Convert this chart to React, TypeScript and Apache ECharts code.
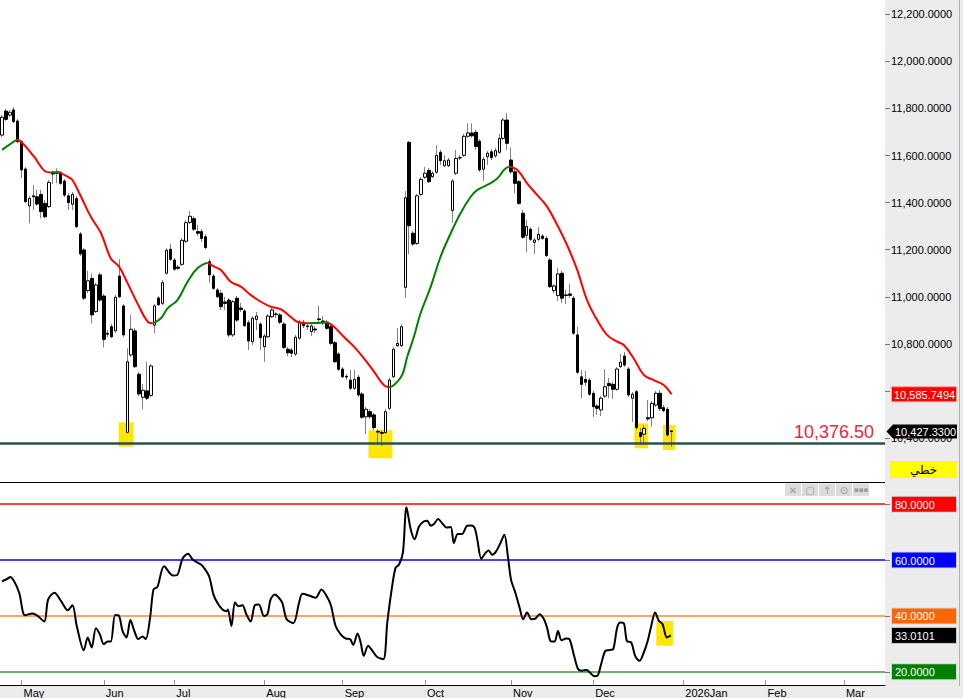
import { useEffect, useRef } from 'react';
import * as echarts from 'echarts';

// ---- candle data (one entry per trading day, slot index = array index) ----
const opens = [
  11687, 11789, 11772, 11794, 11747, 11659, 11543, 11386, 11429, 11425, 11435, 11397, 11383, 11529, 11529, 11527, 11492, 11429, 11393, 11418,
  11267, 11199, 11026, 11078, 10937, 11093, 11003, 10845, 10873, 10855, 11088, 10961, 10424, 10753, 10855, 10671, 10573, 10600, 10581, 10879,
  10995, 10972, 11100, 11202, 11156, 11126, 11138, 11236, 11316, 11332, 11277, 11277, 11255, 11149, 11088, 11029, 11015, 10978, 10986, 10838,
  10994, 10952, 10940, 10890, 10809, 10904, 10884, 10788, 10830, 10915, 10925, 10923, 10884, 10777, 10774, 10757, 10824, 10892, 10876, 10852,
  10863, 10906, 10897, 10892, 10873, 10805, 10757, 10693, 10662, 10646, 10611, 10658, 10587, 10490, 10512, 10498, 10428, 10423, 10423, 10526,
  10660, 10792, 10792, 11040, 11656, 11270, 11227, 11435, 11508, 11537, 11510, 11529, 11614, 11557, 11557, 11367, 11525, 11591, 11601, 11682,
  11696, 11699, 11661, 11542, 11595, 11616, 11599, 11614, 11673, 11751, 11581, 11531, 11489, 11355, 11261, 11287, 11231, 11244, 11258, 11248,
  11156, 11026, 11005, 11100, 11008, 11012, 10994, 10838, 10660, 10649, 10646, 10590, 10536, 10519, 10578, 10632, 10628, 10607, 10703, 10748,
  10693, 10569, 10597, 10423, 10416, 10486, 10486, 10540, 10590, 10529, 10522, 10430,
];
const closes = [
  11763, 11754, 11784, 11744, 11659, 11539, 11404, 11418, 11425, 11394, 11362, 11340, 11486, 11522, 11525, 11482, 11432, 11400, 11435, 11298,
  11182, 10994, 11068, 10923, 11050, 10986, 10819, 10841, 10830, 10998, 11000, 10838, 10724, 10862, 10703, 10587, 10603, 10569, 10706, 10961,
  10966, 11060, 11198, 11159, 11117, 11121, 11240, 11315, 11342, 11287, 11270, 11248, 11209, 11093, 11036, 11000, 10958, 10972, 10838, 10979,
  10901, 10946, 10877, 10812, 10909, 10918, 10826, 10833, 10918, 10944, 10927, 10892, 10784, 10762, 10760, 10828, 10892, 10877, 10873, 10876,
  10859, 10903, 10890, 10866, 10802, 10724, 10692, 10660, 10659, 10611, 10649, 10583, 10488, 10522, 10490, 10444, 10425, 10420, 10512, 10646,
  10777, 10802, 10873, 11421, 11302, 11224, 11429, 11499, 11525, 11489, 11525, 11601, 11578, 11578, 11581, 11492, 11588, 11590, 11682, 11696,
  11684, 11638, 11539, 11584, 11610, 11591, 11621, 11673, 11751, 11652, 11531, 11482, 11397, 11253, 11299, 11244, 11241, 11265, 11248, 11175,
  11043, 11046, 11097, 10994, 11005, 11006, 10845, 10679, 10628, 10637, 10586, 10533, 10526, 10569, 10618, 10622, 10607, 10693, 10722, 10710,
  10583, 10586, 10444, 10406, 10441, 10481, 10547, 10590, 10525, 10516, 10413, 10427.33,
];
const lows = [
  11679, 11747, 11764, 11738, 11653, 11505, 11398, 11312, 11369, 11386, 11333, 11335, 11377, 11479, 11482, 11475, 11424, 11369, 11369, 11292,
  11173, 10986, 11016, 10887, 10931, 10978, 10785, 10829, 10825, 10846, 10995, 10829, 10419, 10744, 10697, 10578, 10522, 10561, 10574, 10845,
  10961, 10965, 11093, 11152, 11110, 11114, 11131, 11228, 11309, 11279, 11258, 11233, 11203, 11060, 11029, 10995, 10944, 10944, 10829, 10829,
  10893, 10935, 10872, 10774, 10795, 10859, 10774, 10723, 10825, 10910, 10910, 10884, 10778, 10748, 10744, 10748, 10816, 10867, 10859, 10833,
  10846, 10893, 10880, 10859, 10795, 10719, 10685, 10655, 10646, 10604, 10604, 10574, 10481, 10417, 10481, 10434, 10370, 10366, 10417, 10519,
  10655, 10787, 10787, 10996, 11180, 11216, 11220, 11428, 11500, 11483, 11505, 11522, 11560, 11551, 11551, 11315, 11517, 11581, 11594, 11675,
  11675, 11624, 11530, 11492, 11560, 11581, 11590, 11607, 11666, 11624, 11522, 11441, 11390, 11246, 11190, 11237, 11182, 11237, 11241, 11169,
  11037, 11016, 10982, 10974, 10969, 10995, 10838, 10672, 10569, 10621, 10578, 10490, 10498, 10493, 10570, 10570, 10566, 10600, 10697, 10702,
  10574, 10468, 10434, 10370, 10370, 10472, 10447, 10532, 10515, 10510, 10404, 10362,
];
const highs = [
  11772, 11798, 11794, 11806, 11755, 11666, 11551, 11428, 11475, 11454, 11454, 11411, 11496, 11534, 11546, 11534, 11500, 11440, 11445, 11428,
  11275, 11207, 11110, 11100, 11059, 11102, 11012, 10859, 10884, 11008, 11159, 10969, 10781, 10923, 10867, 10680, 10629, 10724, 10714, 10969,
  11003, 11071, 11207, 11224, 11165, 11135, 11250, 11326, 11364, 11343, 11305, 11288, 11267, 11161, 11097, 11037, 11029, 10999, 10995, 10986,
  11003, 10974, 10948, 10901, 10918, 10935, 10893, 10842, 10927, 10952, 10935, 10931, 10893, 10787, 10782, 10838, 10901, 10901, 10889, 10884,
  10876, 10962, 10918, 10901, 10884, 10812, 10765, 10702, 10672, 10689, 10689, 10668, 10595, 10532, 10523, 10506, 10438, 10434, 10523, 10655,
  10787, 10867, 10884, 11449, 11662, 11280, 11437, 11509, 11551, 11547, 11534, 11645, 11624, 11602, 11590, 11500, 11624, 11602, 11692, 11737,
  11737, 11709, 11670, 11594, 11619, 11628, 11632, 11692, 11760, 11780, 11635, 11543, 11496, 11369, 11326, 11296, 11250, 11296, 11267, 11258,
  11165, 11054, 11122, 11110, 11029, 11054, 11003, 10872, 10689, 10685, 10655, 10600, 10544, 10578, 10693, 10655, 10638, 10702, 10757, 10765,
  10702, 10595, 10604, 10442, 10455, 10561, 10557, 10600, 10604, 10540, 10532, 10432,
];

// ---- moving average (slot position, value) ----
const maSlots = [
  0, 3.6, 4.9, 8.2, 10.8, 12.5, 14.6, 16.8, 18.0, 20.2, 22.7, 25.3, 27.8, 29.9, 32.1, 34.6, 37.2, 38.5, 40.6, 42.3,
  44.8, 47.4, 49.9, 52.5, 54.2, 55.9, 58.4, 61.0, 63.5, 66.1, 68.6, 71.2, 73.7, 75.4, 78.0, 80.5, 83.1, 84.8, 87.3, 89.9,
  92.4, 95.0, 97.5, 98.8, 100.1, 102.2, 103.5, 105.2, 106.9, 109.5, 112.0, 114.6, 117.1, 119.7, 121.4, 123.9, 126.5, 128.2, 129.4, 131.6,
  134.1, 136.7, 139.2, 141.8, 144.3, 146.9, 149.4, 152.0, 154.5, 157.1, 158.8, 161.3, 163.9, 166.4, 169.0, 171.0,
];
const maValues = [
  11624, 11666, 11659, 11595, 11536, 11528, 11530, 11510, 11496, 11425, 11340, 11270, 11163, 11128, 11057, 10972, 10894, 10887, 10909, 10951,
  10986, 11064, 11121, 11145, 11128, 11114, 11064, 11043, 11008, 10979, 10958, 10947, 10915, 10894, 10887, 10889, 10891, 10873, 10830, 10788,
  10739, 10682, 10625, 10615, 10625, 10668, 10745, 10830, 10930, 11043, 11170, 11270, 11355, 11425, 11454, 11475, 11503, 11539, 11553, 11539,
  11482, 11432, 11383, 11305, 11220, 11114, 10986, 10901, 10838, 10809, 10795, 10739, 10668, 10646, 10625, 10585.7494,
];

// ---- RSI (slot position, value) ----
const rsiSlots = [
  0, 1.5, 2.1, 3.1, 4.4, 5.9, 7.8, 9.1, 10.8, 11.8, 13.4, 15.1, 16.8, 18.0, 19.1, 20.9, 21.9, 22.9, 24.0, 25.0,
  26.0, 27.0, 27.8, 28.9, 29.8, 30.8, 31.8, 32.8, 33.8, 34.8, 35.9, 36.7, 37.8, 38.7, 39.7, 41.4, 43.6, 44.7, 46.1, 47.5,
  48.7, 50.8, 51.6, 52.9, 54.0, 55.0, 56.3, 57.4, 57.7, 58.6, 59.5, 60.3, 61.4, 62.4, 63.5, 64.6, 65.6, 66.9, 67.8, 68.6,
  69.7, 70.7, 71.6, 72.7, 74.4, 75.9, 76.7, 78.4, 80.1, 81.6, 82.9, 84.0, 85.2, 86.5, 87.8, 88.9, 89.7, 90.8, 91.6, 92.4,
  93.5, 94.6, 95.8, 97.4, 98.4, 99.4, 100.5, 101.4, 102.4, 103.3, 104.4, 105.4, 106.5, 107.7, 108.6, 109.5, 110.3, 111.4, 112.4, 113.5,
  114.6, 115.4, 116.4, 117.5, 118.8, 119.8, 120.7, 121.4, 122.4, 123.5, 124.3, 125.2, 126.2, 127.3, 128.3, 129.2, 130.0, 131.1, 132.2, 133.1,
  134.1, 135.2, 136.2, 137.3, 138.4, 139.2, 140.1, 141.1, 142.0, 142.9, 144.1, 144.9, 146.0, 147.1, 148.1, 149.3, 150.3, 151.3, 152.1, 153.0,
  154.1, 155.2, 156.1, 157.1, 157.9, 158.8, 159.6, 160.7, 161.7, 162.8, 163.9, 164.9, 165.8, 166.8, 167.7, 168.7, 169.8, 170.8,
];
const rsiValues = [
  52.4, 53.4, 53.9, 52.4, 48.3, 40.2, 40.9, 40.0, 38.0, 45.9, 48.3, 45.3, 42.0, 43.8, 36.4, 27.7, 32.3, 28.7, 35.6, 33.4,
  29.9, 30.8, 30.8, 40.3, 40.2, 34.6, 32.3, 38.5, 34.6, 31.7, 32.6, 31.7, 39.0, 49.5, 50.4, 57.8, 54.5, 54.6, 60.5, 62.3,
  60.2, 58.4, 57.2, 54.2, 47.7, 44.7, 42.3, 41.7, 42.3, 36.4, 44.9, 43.5, 43.8, 40.6, 38.0, 43.9, 44.1, 40.0, 40.6, 45.9,
  47.7, 46.5, 44.7, 38.8, 37.4, 44.9, 47.9, 47.3, 46.5, 49.5, 47.1, 43.8, 36.4, 33.4, 31.9, 31.7, 29.6, 33.7, 30.5, 25.7,
  29.3, 27.5, 25.3, 24.5, 37.6, 48.3, 57.2, 58.4, 62.8, 78.9, 70.9, 67.5, 72.0, 73.8, 74.1, 72.3, 72.9, 74.7, 73.2, 71.7,
  71.8, 66.1, 69.3, 69.3, 72.3, 72.4, 71.5, 67.3, 60.5, 62.6, 63.4, 61.9, 63.1, 66.1, 69.1, 61.3, 53.0, 48.3, 42.9, 38.8,
  41.2, 38.8, 39.0, 40.6, 38.8, 35.8, 31.0, 30.8, 34.6, 31.3, 31.9, 31.7, 26.3, 21.0, 20.4, 20.6, 19.5, 18.4, 18.6, 22.7,
  27.5, 27.8, 28.1, 35.8, 37.6, 37.4, 31.0, 30.5, 25.7, 23.9, 26.9, 31.0, 36.4, 41.2, 38.4, 37.0, 32.3, 33.0101,
];

// ---- axes / annotations ----
const monthTickSlots = [5, 26, 44, 67, 87, 108, 130, 151, 174, 195, 215];
const monthTickLabels = ['May', 'Jun', 'Jul', 'Aug', 'Sep', 'Oct', 'Nov', 'Dec', '2026Jan', 'Feb', 'Mar'];
const priceTicks = [10400, 10600, 10800, 11000, 11200, 11400, 11600, 11800, 12000, 12200];
const priceLabelValues = [10400, 10800, 11000, 11200, 11400, 11600, 11800, 12000, 12200];
const rsiLevels = [20, 40, 60, 80];
const rsiBoxColors = ['#008000', '#ff6600', '#0000ff', '#ff0000'];
const rsiLineColors = ['#3d993d', '#ffa466', '#0000ff', '#ff0000'];
const supportLevel = 10376.5;
const supportLabel = '10,376.50';
const lastMA = 10585.7494;
const lastClose = 10427.33;
const lastRSI = 33.0101;
const priceHlFrom = [29.8, 93.6, 161.5, 168.8];
const priceHlTo = [33.6, 99.7, 165.0, 172.0];
const priceHlLow = [10363, 10314, 10356, 10349];
const priceHlHigh = [10467, 10433, 10462, 10455];
const rsiHlFrom = [167.1];
const rsiHlTo = [171.4];
const rsiHlLow = [29.3];
const rsiHlHigh = [38.2];

const SLOT_COUNT = 226;
const PRICE_MIN = 10213;
const PRICE_MAX = 12261;
const RSI_MIN = 15.26;
const RSI_MAX = 87.6;
const FONT = "'Liberation Sans', Arial, sans-serif";

const fmt = (v: number) =>
  v.toLocaleString('en-US', { minimumFractionDigits: 4, maximumFractionDigits: 4 });

function maSegments(rising: boolean) {
  const out: any[] = [];
  let last = -1;
  for (let k = 0; k < maSlots.length - 1; k++) {
    const up = maValues[k + 1] > maValues[k];
    if (up === rising) {
      if (last !== k) {
        if (out.length) out.push([maSlots[k], '-']);
        out.push([maSlots[k], maValues[k]]);
      }
      out.push([maSlots[k + 1], maValues[k + 1]]);
      last = k + 1;
    }
  }
  return out;
}

export default function App() {
  const ref = useRef<HTMLDivElement>(null);
  useEffect(() => {
    document.body.style.margin = '0';
    const chart = echarts.init(ref.current!, null, { renderer: 'svg' });
    const cats = Array.from({ length: SLOT_COUNT }, (_, i) => String(i));
    const tickMap = new Map<number, string>(monthTickSlots.map((s, i) => [s, monthTickLabels[i]]));
    const isTick = (idx: number) => tickMap.has(idx);

    const wickData = opens.map((o, i) => [o, closes[i], lows[i], highs[i]]);
    const bodyData = opens.map((o, i) => [o, closes[i], Math.min(o, closes[i]), Math.max(o, closes[i])]);
    const rsiData = rsiSlots.map((s, i) => [s, rsiValues[i]]);

    const rich: any = {};
    rsiLevels.forEach((lv, i) => {
      rich['l' + lv] = {
        backgroundColor: rsiBoxColors[i],
        color: '#fff',
        width: 58,
        height: 12,
        lineHeight: 12,
        padding: [2, 3, 1, 3],
        borderColor: '#d8d8d8',
        borderWidth: 1,
        fontSize: 11,
        fontFamily: FONT,
      };
    });

    const option: any = {
      animation: false,
      backgroundColor: '#ececec',
      textStyle: { fontFamily: FONT },
      grid: [
        { left: -1, right: 78, top: 0, height: 482, show: true, backgroundColor: '#ffffff', borderWidth: 0 },
        { left: -1, right: 78, top: 483, bottom: 12, show: true, backgroundColor: '#ffffff', borderWidth: 0 },
      ],
      xAxis: [
        { type: 'category', gridIndex: 0, data: cats, boundaryGap: true, show: false },
        { type: 'value', gridIndex: 0, min: -0.5, max: SLOT_COUNT - 0.5, show: false, axisLine: { onZero: false } },
        {
          type: 'category',
          gridIndex: 1,
          data: cats,
          boundaryGap: true,
          axisLine: { onZero: false, lineStyle: { color: '#000', width: 1 } },
          axisTick: { show: true, inside: true, length: 5, alignWithLabel: true, interval: (i: number) => isTick(i), lineStyle: { color: '#999' } },
          axisLabel: {
            interval: (i: number) => isTick(i),
            formatter: (_v: string, i: number) => tickMap.get(i) ?? '',
            align: 'left',
            margin: 2,
            padding: [0, 0, 0, 2],
            color: '#000',
            fontSize: 11,
            fontFamily: FONT,
          },
          splitLine: { show: false },
        },
        { type: 'value', gridIndex: 1, min: -0.5, max: SLOT_COUNT - 0.5, show: false, axisLine: { onZero: false } },
      ],
      yAxis: [
        {
          type: 'value',
          gridIndex: 0,
          position: 'right',
          min: PRICE_MIN,
          max: PRICE_MAX,
          splitLine: { show: false },
          axisLine: { show: false, onZero: false },
          axisTick: { show: true, length: 5, customValues: priceTicks, lineStyle: { color: '#777' } },
          axisLabel: { customValues: priceLabelValues, formatter: (v: number) => fmt(v), margin: 6, color: '#000', fontSize: 11, fontFamily: FONT },
        },
        {
          type: 'value',
          gridIndex: 1,
          position: 'right',
          min: RSI_MIN,
          max: RSI_MAX,
          splitLine: { show: false },
          axisLine: { show: false, onZero: false },
          axisTick: { show: true, length: 5, customValues: rsiLevels, lineStyle: { color: '#777' } },
          axisLabel: {
            customValues: rsiLevels,
            formatter: (v: number) => `{l${v}|${v.toFixed(4)}}`,
            rich,
            margin: 7,
          },
        },
      ],
      series: [
        {
          type: 'candlestick',
          name: 'wick',
          xAxisIndex: 0,
          yAxisIndex: 0,
          data: wickData,
          barWidth: 1,
          silent: true,
          itemStyle: { color: '#808080', color0: '#808080', borderColor: '#808080', borderColor0: '#808080', borderWidth: 1 },
        },
        {
          type: 'candlestick',
          name: 'body',
          xAxisIndex: 0,
          yAxisIndex: 0,
          data: bodyData,
          barWidth: 3,
          silent: true,
          itemStyle: { color: '#ffffff', color0: '#000000', borderColor: '#000000', borderColor0: '#000000', borderWidth: 1 },
        },
        {
          type: 'line',
          name: 'ma-down',
          xAxisIndex: 1,
          yAxisIndex: 0,
          data: maSegments(false),
          smooth: 0.4,
          symbol: 'none',
          silent: true,
          lineStyle: { color: '#ff0000', width: 2 },
          markArea: {
            silent: true,
            itemStyle: { color: '#ffe800', opacity: 1 },
            data: priceHlFrom.map((f, i) => [
              { xAxis: f, yAxis: priceHlLow[i] },
              { xAxis: priceHlTo[i], yAxis: priceHlHigh[i] },
            ]),
          },
          markLine: {
            silent: true,
            symbol: 'none',
            lineStyle: { color: '#2a524b', width: 2.5, type: 'solid' },
            label: {
              show: true,
              position: 'insideEndTop',
              formatter: supportLabel,
              color: '#e8283c',
              fontSize: 18,
              fontFamily: FONT,
              distance: 3,
              padding: [0, 8, 0, 0],
            },
            data: [{ yAxis: supportLevel }],
          },
        },
        {
          type: 'line',
          name: 'ma-up',
          xAxisIndex: 1,
          yAxisIndex: 0,
          data: maSegments(true),
          smooth: 0.4,
          symbol: 'none',
          silent: true,
          lineStyle: { color: '#008000', width: 2 },
        },
        {
          type: 'line',
          name: 'rsi',
          xAxisIndex: 3,
          yAxisIndex: 1,
          data: rsiData,
          smooth: 0.3,
          symbol: 'none',
          silent: true,
          z: 3,
          lineStyle: { color: '#000', width: 2 },
          markLine: {
            silent: true,
            symbol: 'none',
            z: 1,
            label: { show: false },
            data: rsiLevels.map((lv, i) => ({ yAxis: lv, lineStyle: { color: rsiLineColors[i], width: lv === 40 ? 2 : 1.5, type: 'solid' } })),
          },
          markArea: {
            silent: true,
            itemStyle: { color: '#ffe800', opacity: 1 },
            data: rsiHlFrom.map((f, i) => [
              { xAxis: f, yAxis: rsiHlLow[i] },
              { xAxis: rsiHlTo[i], yAxis: rsiHlHigh[i] },
            ]),
          },
        },
      ],
    };
    chart.setOption(option);

    const yMA = chart.convertToPixel({ yAxisIndex: 0 } as any, lastMA) as unknown as number;
    const yC = chart.convertToPixel({ yAxisIndex: 0 } as any, lastClose) as unknown as number;
    const yR = chart.convertToPixel({ yAxisIndex: 1 } as any, lastRSI) as unknown as number;

    const icons = ['✕', '▢', '↑', '⊙', '▪▪▪'];
    const iconX = [785, 802, 819, 836, 853];
    const graphic: any[] = [
      { type: 'line', z: 100, shape: { x1: 0, y1: 482.5, x2: 885, y2: 482.5 }, style: { stroke: '#000', lineWidth: 1 } },
      { type: 'line', z: 100, shape: { x1: 959.5, y1: 0, x2: 959.5, y2: 686 }, style: { stroke: '#b0b0b0', lineWidth: 1 } },
      // MA value box
      { type: 'rect', z: 100, shape: { x: 891.5, y: yMA - 7.5, width: 65, height: 15 }, style: { fill: '#ff0000', stroke: '#ff9a9a', lineWidth: 1 } },
      { type: 'text', z: 101, x: 894, y: yMA + 0.5, style: { text: fmt(lastMA), fill: '#fff', font: `11px ${FONT}`, verticalAlign: 'middle' } },
      // last close box (arrow)
      {
        type: 'polygon',
        z: 100,
        shape: { points: [[886.5, yC], [893, yC - 7], [957, yC - 7], [957, yC + 7], [893, yC + 7]] },
        style: { fill: '#000' },
      },
      { type: 'text', z: 101, x: 895, y: yC + 0.5, style: { text: fmt(lastClose), fill: '#fff', font: `11px ${FONT}`, verticalAlign: 'middle' } },
      // yellow mode box
      { type: 'rect', z: 100, shape: { x: 890, y: 461, width: 67, height: 17 }, style: { fill: '#ffff00' } },
      { type: 'text', z: 101, x: 923.5, y: 469.5, style: { text: 'خطي', fill: '#000', font: "12px 'DejaVu Sans', 'Noto Sans', sans-serif", align: 'center', verticalAlign: 'middle' } },
      // RSI last value box
      { type: 'rect', z: 100, shape: { x: 891.5, y: yR - 8, width: 65, height: 16 }, style: { fill: '#000', stroke: '#ccc', lineWidth: 1 } },
      { type: 'text', z: 101, x: 895, y: yR + 0.5, style: { text: lastRSI.toFixed(4), fill: '#fff', font: `11px ${FONT}`, verticalAlign: 'middle' } },
    ];
    icons.forEach((ic, i) => {
      graphic.push({ type: 'rect', z: 100, shape: { x: iconX[i], y: 483.5, width: 16, height: 12.5 }, style: { fill: '#dcdcdc' } });
      graphic.push({
        type: 'text',
        z: 101,
        x: iconX[i] + 8,
        y: 490,
        style: { text: ic, fill: '#9a9a9a', font: `${i === 4 ? 7 : 10}px 'DejaVu Sans', sans-serif`, align: 'center', verticalAlign: 'middle' },
      });
    });
    chart.setOption({ graphic });

    return () => chart.dispose();
  }, []);
  return <div ref={ref} style={{ width: 963, height: 698 }} />;
}
